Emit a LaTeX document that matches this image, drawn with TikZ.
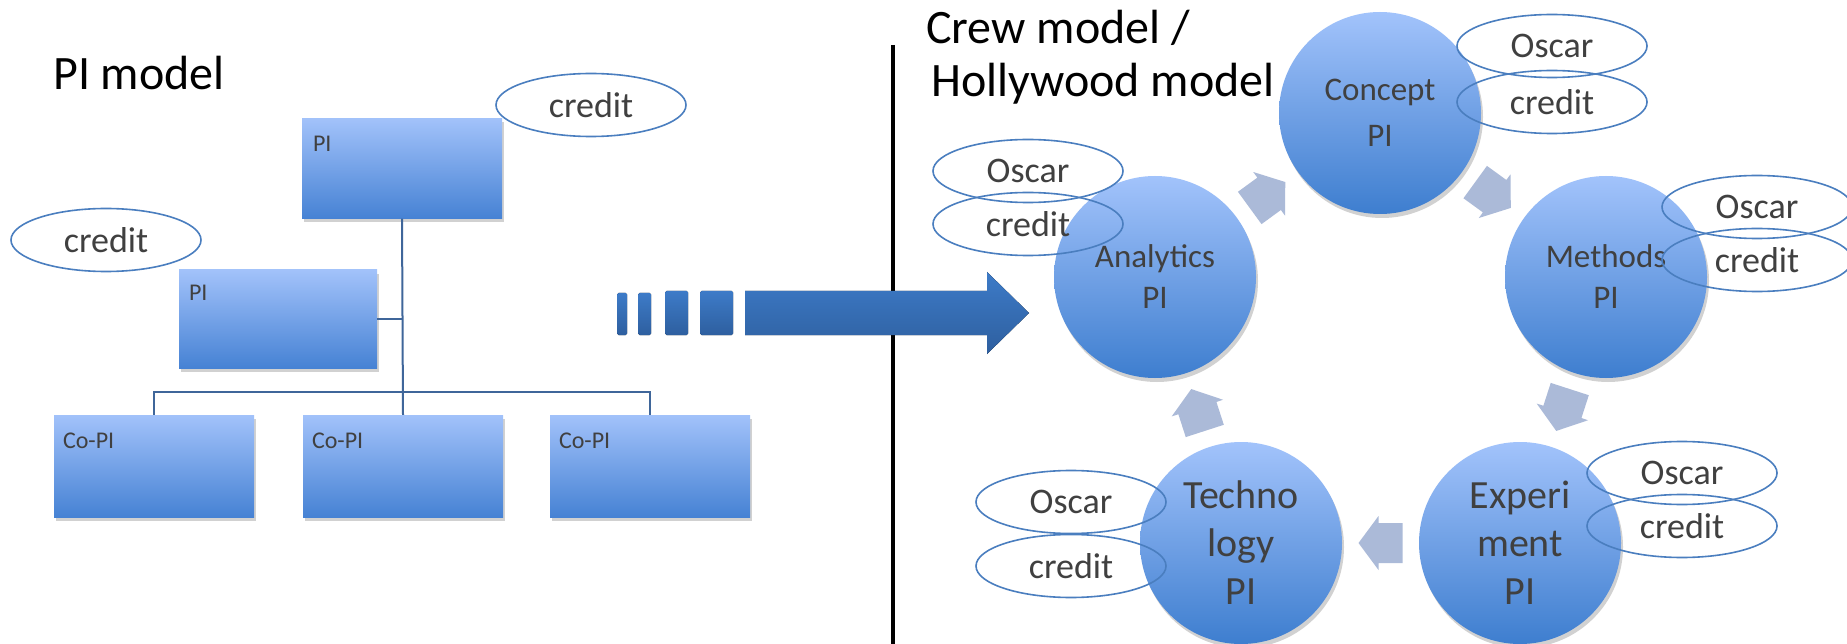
\documentclass[tikz,border=0pt]{standalone}
\usepackage{fontspec}
\setmainfont{Carlito}
\usetikzlibrary{shapes.geometric,shadows}
\definecolor{boxtop}{HTML}{A2C2FA}
\definecolor{boxbot}{HTML}{4682D4}
\definecolor{circtop}{HTML}{A2C3FB}
\definecolor{circbot}{HTML}{3E7ECF}
\definecolor{linec}{HTML}{3F669A}
\definecolor{ellc}{HTML}{4A7EBF}
\definecolor{txtgray}{HTML}{404040}
\definecolor{chevc}{HTML}{ABBAD8}
\definecolor{arrtop}{HTML}{3D7BC8}
\definecolor{arrbot}{HTML}{2E5F9F}
\tikzset{
  softshadow/.style={drop shadow={shadow xshift=2pt, shadow yshift=-4pt, opacity=0.18, fill=black}},
  orgbox/.style={rectangle, inner sep=0pt, top color=boxtop, bottom color=boxbot, softshadow},
  boxlbl/.style={inner sep=0pt, anchor=base west, text=txtgray, font=\fontsize{24}{29}\selectfont},
  pic/.style={circle, inner sep=0pt, minimum size=202pt, top color=circtop, bottom color=circbot, softshadow, text=txtgray, align=center},
  smallpi/.style={pic, font=\fontsize{33}{41}\selectfont},
  bigpi/.style={pic, font=\fontsize{40}{48}\selectfont},
  oval/.style={ellipse, draw=ellc, line width=1.6pt, minimum width=190pt, minimum height=63pt, inner sep=0pt, text=txtgray, font=\fontsize{36}{43}\selectfont},
  title/.style={inner sep=0pt, anchor=base west, text=black, font=\fontsize{48}{58}\selectfont},
  tree/.style={draw=linec, line width=2pt},
  cyc/.pic={\fill[chevc] (-22,-20) -- (2,-20) -- (2,-27) -- (22,0) -- (2,27) -- (2,20) -- (-22,20) -- cycle;},
  bar/.style={top color=arrtop, bottom color=arrbot, rounded corners=1.5pt}
}
\begin{document}
\begin{tikzpicture}[x=1pt,y=-1pt]
\useasboundingbox[fill=white] (0,0) rectangle (1847,644);

% ---------- left: PI model ----------
\node[title] (t1) at (53,90) {PI model};

\node[orgbox, minimum width=200pt, minimum height=100pt] (pitop) at (402,168.5) {};
\node[orgbox, minimum width=198pt, minimum height=98pt] (pimid) at (278,319) {};
\node[orgbox, minimum width=200pt, minimum height=102pt] (co1) at (154,466) {};
\node[orgbox, minimum width=200pt, minimum height=102pt] (co2) at (403,466) {};
\node[orgbox, minimum width=200pt, minimum height=102pt] (co3) at (650,466) {};

\node[boxlbl] (l1) at ([xshift=11pt,yshift=-33pt]pitop.north west) {PI};
\node[boxlbl] (l2) at ([xshift=10pt,yshift=-31pt]pimid.north west) {PI};
\node[boxlbl] (l3) at ([xshift=9pt,yshift=-34pt]co1.north west) {Co-PI};
\node[boxlbl] (l4) at ([xshift=9pt,yshift=-34pt]co2.north west) {Co-PI};
\node[boxlbl] (l5) at ([xshift=9pt,yshift=-34pt]co3.north west) {Co-PI};

\draw[tree] (pitop.south) -- (co2.north);
\draw[tree] (pimid.east) -- (pimid.east -| pitop.south);
\draw[tree] (co1.north) -- ++(0,-23) -| (co3.north);

\node[oval] (cr1) at (591,105) {credit};
\node[oval] (cr2) at (106,240) {credit};

% ---------- transition arrow ----------
\coordinate (dtop) at (893,45);
\coordinate (dbot) at (893,644);
\draw[line width=4pt, black] (dtop) -- (dbot);

\fill[bar] (617,293) rectangle (627,335);
\fill[bar] (638,293) rectangle (651,335);
\fill[bar] (665,291) rectangle (688,335);
\fill[bar] (700,291) rectangle (733,335);
\fill[top color=arrtop, bottom color=arrbot] (745,291) -- (987,291) -- (987,272) -- (1029,313) -- (987,354) -- (987,335) -- (745,335) -- cycle;

% ---------- right: crew model ----------
\node[title] (t2) at (926,44) {Crew model /};
\node[title] (t3) at (931,97) {Hollywood model};

\node[smallpi, font=\fontsize{33}{46}\selectfont] (concept) at (1380,113) {Concept\\PI};
\node[smallpi] (methods) at (1606,277) {Methods\\PI};
\node[bigpi] (exper) at (1520,543) {Experi\\ment\\PI};
\node[bigpi] (techno) at (1241,543) {Techno\\logy\\PI};
\node[smallpi] (analy) at (1155,277) {Analytics\\PI};

\path (analy) -- (concept) pic[pos=0.5, sloped, allow upside down] {cyc};
\path (concept) -- (methods) pic[pos=0.5, sloped, allow upside down] {cyc};
\path (methods) -- (exper) pic[pos=0.5, sloped, allow upside down] {cyc};
\path (exper) -- (techno) pic[pos=0.5, sloped, allow upside down] {cyc};
\path (techno) -- (analy) pic[pos=0.5, sloped, allow upside down] {cyc};

\node[oval] (os1) at (1552,46) {Oscar};
\node[oval] (cd1) at (1552,102) {credit};
\node[oval] (os2) at (1757,207) {Oscar};
\node[oval] (cd2) at (1757,260) {credit};
\node[oval] (os3) at (1682,473) {Oscar};
\node[oval] (cd3) at (1682,526) {credit};
\node[oval] (os4) at (1071,502) {Oscar};
\node[oval] (cd4) at (1071,566) {credit};
\node[oval] (os5) at (1028,171) {Oscar};
\node[oval] (cd5) at (1028,224) {credit};
\end{tikzpicture}
\end{document}
